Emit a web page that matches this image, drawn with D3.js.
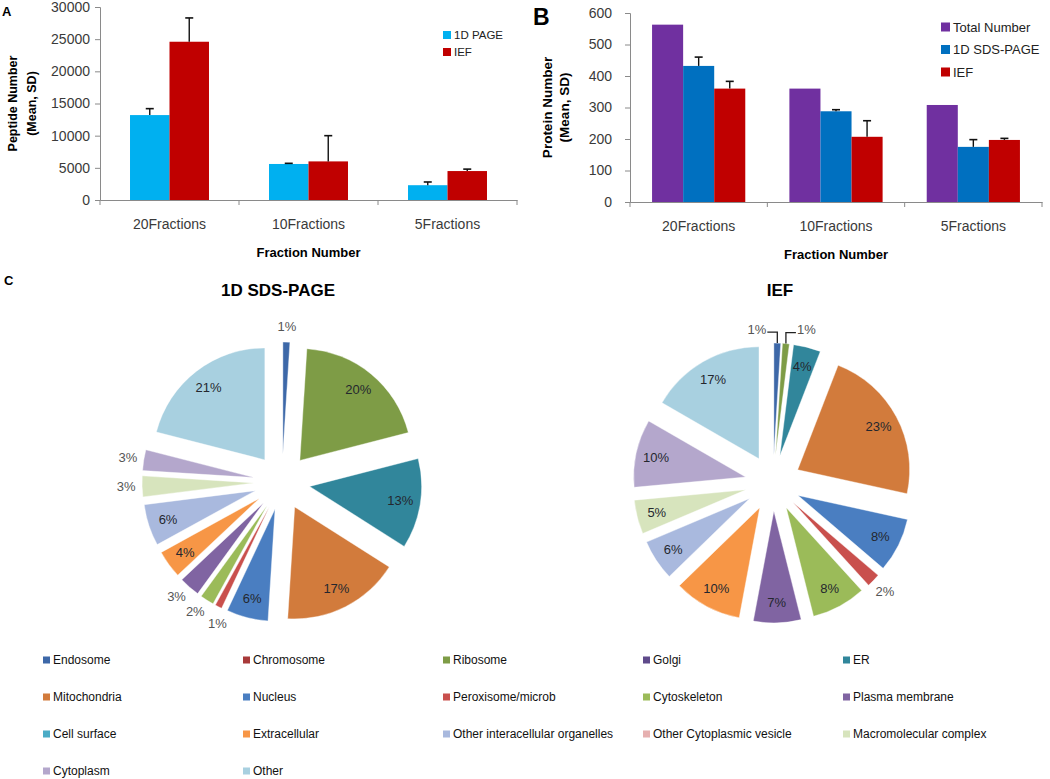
<!DOCTYPE html>
<html><head><meta charset="utf-8">
<script src="https://cdn.jsdelivr.net/npm/d3@7"></script>
<style>body{margin:0;background:#fff} svg text{font-family:"Liberation Sans",Arial,sans-serif}</style>
</head><body>
<svg id="c" width="1050" height="779"></svg>
<script>
// ---------- DATA ----------
const fractions = ["20Fractions", "10Fractions", "5Fractions"];

// Panel A: peptide numbers
const peptideSeriesNames = ["1D PAGE", "IEF"];
const peptideMean1D = [13200, 5600, 2300];
const peptideSD1D = [1000, 100, 500];
const peptideMeanIEF = [24600, 6000, 4500];
const peptideSDIEF = [3700, 4000, 300];
const peptideTicks = [0, 5000, 10000, 15000, 20000, 25000, 30000];

// Panel B: protein numbers
const proteinSeriesNames = ["Total Number", "1D SDS-PAGE", "IEF"];
const proteinTotal = [563, 360, 308];
const proteinMeanSDS = [432, 288, 175];
const proteinSDSDS = [28, 5, 23];
const proteinMeanIEF = [360, 207, 197];
const proteinSDIEF = [23, 51, 5];
const proteinTicks = [0, 100, 200, 300, 400, 500, 600];

// Panel C: subcellular locations (%)
const locations = ["Endosome", "Chromosome", "Ribosome", "Golgi", "ER",
  "Mitochondria", "Nucleus", "Peroxisome/microb", "Cytoskeleton", "Plasma membrane",
  "Cell surface", "Extracellular", "Other interacellular  organelles", "Other Cytoplasmic vesicle", "Macromolecular complex",
  "Cytoplasm", "Other"];
const locationColors = ["#3D68A8", "#A83A3A", "#7E9C46", "#5F4A8B", "#31869B",
  "#D27B3C", "#4A7EC1", "#C9504D", "#9BBB59", "#8064A2",
  "#4BACC6", "#F79646", "#A9B9DE", "#E6B0B0", "#D7E4BD",
  "#B4A7CC", "#A8D0E0"];
const pctSDS = [1, 0, 20, 0, 13, 17, 6, 1, 2, 3, 0, 4, 6, 0, 3, 3, 21];
const pctIEF = [1, 0, 1, 0, 4, 23, 8, 2, 8, 7, 0, 10, 6, 0, 5, 10, 17];

// ---------- DRAWING ----------
const FONT = '"Liberation Sans",Arial,sans-serif';
const svg = d3.select("#c");
svg.append("rect").attr("width", 1050).attr("height", 779).attr("fill", "#fff");

function barChart(cfg) {
  const g = svg.append("g");
  const x = d3.scaleBand().domain(cfg.categories).range([cfg.left, cfg.right]);
  const xs = d3.scaleBand().domain(cfg.series.map(s => s.name)).range([0, x.bandwidth()]).paddingOuter(cfg.pad);
  const y = d3.scaleLinear().domain([0, cfg.max]).range([cfg.bottom, cfg.top]);

  const ya = g.append("g").attr("transform", `translate(${cfg.left},0)`)
    .call(d3.axisLeft(y).tickValues(cfg.ticks).tickSize(5).tickPadding(cfg.tickPad).tickFormat(d3.format("d")))
    .attr("font-size", 14).attr("font-family", FONT);
  ya.select(".domain").attr("stroke", "#8a8a8a");
  ya.selectAll(".tick line").attr("stroke", "#8a8a8a");
  ya.selectAll(".tick text").attr("fill", "#3a3a3a");

  cfg.series.forEach(s => {
    g.selectAll(null).data(cfg.categories).enter().append("rect")
      .attr("x", c => x(c) + xs(s.name)).attr("width", xs.bandwidth())
      .attr("y", (c, i) => y(s.values[i])).attr("height", (c, i) => y(0) - y(s.values[i]))
      .attr("fill", s.color);
    if (s.sd) {
      cfg.categories.forEach((c, i) => {
        const cx = x(c) + xs(s.name) + xs.bandwidth() / 2;
        const yt = y(s.values[i] + s.sd[i]);
        g.append("line").attr("x1", cx).attr("x2", cx).attr("y1", y(s.values[i])).attr("y2", yt)
          .attr("stroke", "#111").attr("stroke-width", 1.4);
        g.append("line").attr("x1", cx - 4).attr("x2", cx + 4).attr("y1", yt).attr("y2", yt)
          .attr("stroke", "#111").attr("stroke-width", 1.6);
      });
    }
  });

  const xa = g.append("g").attr("transform", `translate(0,${cfg.bottom})`)
    .call(d3.axisBottom(x).tickSize(0).tickPadding(19))
    .attr("font-size", 14).attr("font-family", FONT);
  xa.select(".domain").attr("stroke", "#8a8a8a");
  xa.selectAll(".tick text").attr("fill", "#3a3a3a");
  const bounds = cfg.categories.map(c => x(c)).concat([cfg.right]);
  g.selectAll(null).data(bounds).enter().append("line")
    .attr("x1", d => d).attr("x2", d => d).attr("y1", cfg.bottom).attr("y2", cfg.bottom + 5)
    .attr("stroke", "#8a8a8a");

  g.append("text").attr("x", (cfg.left + cfg.right) / 2).attr("y", cfg.bottom + 57)
    .attr("text-anchor", "middle").attr("font-weight", "bold").attr("font-size", 13).text("Fraction Number");
  cfg.yTitle.forEach((t, k) => {
    g.append("text").attr("transform", `translate(${cfg.yTitleX[k]},${(cfg.top + cfg.bottom) / 2}) rotate(-90)`)
      .attr("text-anchor", "middle").attr("dominant-baseline", "central")
      .attr("font-weight", "bold").attr("font-size", cfg.yTitleSize).text(t);
  });

  cfg.series.forEach((s, k) => {
    const ly = cfg.legendY + k * cfg.legendStep;
    g.append("rect").attr("x", cfg.legendX).attr("y", ly - cfg.sw / 2).attr("width", cfg.sw).attr("height", cfg.sw).attr("fill", s.color);
    g.append("text").attr("x", cfg.legendX + cfg.sw + 3).attr("y", ly).attr("dominant-baseline", "central")
      .attr("font-size", cfg.legendSize).attr("fill", "#222").text(s.name);
  });
}

barChart({
  categories: fractions, left: 100, right: 517, top: 7, bottom: 200, max: 30000, ticks: peptideTicks, pad: 0.76, tickPad: 5,
  series: [
    {name: peptideSeriesNames[0], values: peptideMean1D, sd: peptideSD1D, color: "#00B0F0"},
    {name: peptideSeriesNames[1], values: peptideMeanIEF, sd: peptideSDIEF, color: "#C00000"}
  ],
  yTitle: ["Peptide Number", "(Mean, SD)"], yTitleX: [13, 32], yTitleSize: 12.5,
  legendX: 443, legendY: 35, legendStep: 17, sw: 8, legendSize: 11.5
});

barChart({
  categories: fractions, left: 630, right: 1042, top: 13, bottom: 202, max: 600, ticks: proteinTicks, pad: 0.71, tickPad: 13,
  series: [
    {name: proteinSeriesNames[0], values: proteinTotal, sd: null, color: "#7030A0"},
    {name: proteinSeriesNames[1], values: proteinMeanSDS, sd: proteinSDSDS, color: "#0070C0"},
    {name: proteinSeriesNames[2], values: proteinMeanIEF, sd: proteinSDIEF, color: "#C00000"}
  ],
  yTitle: ["Protein Number", "(Mean, SD)"], yTitleX: [547, 564], yTitleSize: 13.5,
  legendX: 941, legendY: 27, legendStep: 22.5, sw: 9, legendSize: 13
});

svg.append("text").attr("x", 2).attr("y", 16).attr("font-weight", "bold").attr("font-size", 13).text("A");
svg.append("text").attr("x", 533).attr("y", 25).attr("font-weight", "bold").attr("font-size", 23).text("B");
svg.append("text").attr("x", 4).attr("y", 285).attr("font-weight", "bold").attr("font-size", 13).text("C");

// pies
const R = 112, OFF = 28, OUT = 156;
function pieChart(cfg) {
  const data = locations.map((name, i) => ({name, value: cfg.values[i], color: locationColors[i]})).filter(d => d.value > 0);
  const arcs = d3.pie().sort(null).value(d => d.value)(data);
  const arc = d3.arc().innerRadius(0).outerRadius(R);
  const g = svg.append("g").attr("transform", `translate(${cfg.cx},${cfg.cy})`);
  svg.append("text").attr("x", cfg.titleX).attr("y", 296).attr("text-anchor", "middle")
    .attr("font-weight", "bold").attr("font-size", 17).text(cfg.title);
  const n = arcs.length;
  const outside = [];
  arcs.forEach((a, i) => {
    const mid = (a.startAngle + a.endAngle) / 2;
    const ux = Math.sin(mid), uy = -Math.cos(mid);
    g.append("path").attr("d", arc(a)).attr("transform", `translate(${ux * OFF},${uy * OFF})`)
      .attr("fill", a.data.color).attr("stroke", "#fff").attr("stroke-width", 0.4);
    const v = a.data.value;
    const label = v + "%";
    const prevTiny = arcs[(i - 1 + n) % n].data.value < 2, nextTiny = arcs[(i + 1) % n].data.value < 2;
    if (v < 2 && (prevTiny || nextTiny)) {
      const px = ux * (OFF + R), py = uy * (OFF + R);
      const ey = py - 11;
      const dir = nextTiny ? -1 : 1;
      const ex = px + dir * 10;
      g.append("path").attr("d", `M${px},${py}L${px},${ey}L${ex},${ey}`).attr("fill", "none")
        .attr("stroke", "#222").attr("stroke-width", 1.3);
      g.append("text").attr("x", ex + dir * 1).attr("y", ey - 3).attr("text-anchor", dir < 0 ? "end" : "start")
        .attr("dominant-baseline", "central").attr("font-size", 13).attr("fill", "#555").text(label);
    } else if (v < 4) {
      outside.push({ang: mid, label});
    } else {
      const d = OFF + R * 0.82;
      g.append("text").attr("x", ux * d).attr("y", uy * d).attr("text-anchor", "middle")
        .attr("dominant-baseline", "central").attr("font-size", 13).attr("fill", "#24272e").text(label);
    }
  });
  // relax outside labels so they do not collide
  for (let it = 0; it < 200; it++) {
    let moved = false;
    for (let k = 0; k + 1 < outside.length; k++) {
      const p = outside[k], q = outside[k + 1];
      const dx = OUT * (Math.sin(q.ang) - Math.sin(p.ang)), dy = OUT * (Math.cos(p.ang) - Math.cos(q.ang));
      if (Math.abs(dx) < 22 && Math.abs(dy) < 14) { p.ang -= 0.004; q.ang += 0.004; moved = true; }
    }
    if (!moved) break;
  }
  outside.forEach(o => {
    g.append("text").attr("x", Math.sin(o.ang) * OUT).attr("y", -Math.cos(o.ang) * OUT).attr("text-anchor", "middle")
      .attr("dominant-baseline", "central").attr("font-size", 13).attr("fill", "#555").text(o.label);
  });
}
pieChart({cx: 282, cy: 482, values: pctSDS, title: "1D SDS-PAGE", titleX: 278});
pieChart({cx: 773, cy: 483, values: pctIEF, title: "IEF", titleX: 780});

// legend
const lg = svg.append("g");
locations.forEach((name, i) => {
  const lx = 43 + (i % 5) * 200, ly = 660 + Math.floor(i / 5) * 37;
  lg.append("rect").attr("x", lx).attr("y", ly - 3.5).attr("width", 7).attr("height", 7).attr("fill", locationColors[i]);
  lg.append("text").attr("x", lx + 10).attr("y", ly).attr("dominant-baseline", "central")
    .attr("font-size", 12).attr("fill", "#111").text(name);
});
</script>
</body></html>
